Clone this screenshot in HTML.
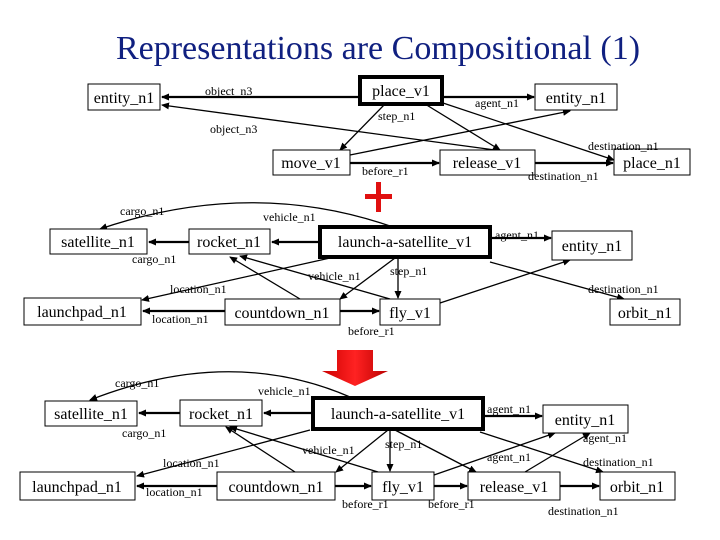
<!DOCTYPE html>
<html><head><meta charset="utf-8"><style>
html,body{margin:0;padding:0;background:#fff;}
svg{display:block;font-family:"Liberation Serif",serif;}
.b{fill:#fff;stroke:#000;stroke-width:1;}
.t{stroke:#000;stroke-width:4;fill:#fff;}
.n{font-size:16px;text-anchor:middle;}
.l{font-size:12px;}
.e{stroke:#000;stroke-width:1.3;fill:none;marker-end:url(#a);}
.h{stroke:#000;stroke-width:2.2;fill:none;marker-end:url(#a);}
</style></head><body>
<svg width="720" height="540" viewBox="0 0 720 540">
<defs>
<marker id="a" markerWidth="8" markerHeight="8" refX="7" refY="4" orient="auto" markerUnits="userSpaceOnUse"><path d="M0,0.5 L8,4 L0,7.5z" fill="#000"/></marker>
<linearGradient id="rg" x1="0" x2="1"><stop offset="0" stop-color="#c00"/><stop offset="0.5" stop-color="#f22"/><stop offset="1" stop-color="#b00"/></linearGradient>
</defs>
<text x="378" y="59" font-size="34" text-anchor="middle" fill="#102080">Representations are Compositional (1)</text>

<!-- TOP -->
<line class="h" x1="360" y1="97" x2="162" y2="97"/>
<line class="h" x1="442" y1="97" x2="534" y2="97"/>
<line class="e" x1="385" y1="104" x2="340" y2="150"/>
<line class="e" x1="425" y1="104" x2="500" y2="150"/>
<line class="e" x1="440" y1="102" x2="614" y2="160"/>
<line class="e" x1="495" y1="150" x2="162" y2="105"/>
<line class="e" x1="350" y1="155" x2="570" y2="111"/>
<line class="h" x1="350" y1="163" x2="439" y2="163"/>
<line class="h" x1="535" y1="163" x2="613" y2="163"/>
<rect class="b" x="88" y="84" width="72" height="26"/><text class="n" x="124" y="103">entity_n1</text>
<rect class="t" x="360" y="77" width="82" height="27"/><text class="n" x="401" y="96">place_v1</text>
<rect class="b" x="535" y="84" width="82" height="26"/><text class="n" x="576" y="103">entity_n1</text>
<rect class="b" x="273" y="150" width="77" height="25"/><text class="n" x="311" y="168">move_v1</text>
<rect class="b" x="440" y="150" width="95" height="25"/><text class="n" x="487" y="168">release_v1</text>
<rect class="b" x="614" y="149" width="76" height="26"/><text class="n" x="652" y="168">place_n1</text>
<text class="l" x="205" y="95">object_n3</text>
<text class="l" x="378" y="120">step_n1</text>
<text class="l" x="475" y="107">agent_n1</text>
<text class="l" x="210" y="133">object_n3</text>
<text class="l" x="588" y="150">destination_n1</text>
<text class="l" x="362" y="175">before_r1</text>
<text class="l" x="528" y="180">destination_n1</text>
<rect x="376" y="182" width="5" height="30" fill="#e01010"/><rect x="365" y="194" width="27" height="5" fill="#e01010"/>

<!-- MIDDLE -->
<path class="e" d="M390,226 Q250,178 100,229"/>
<line class="h" x1="320" y1="242" x2="272" y2="242"/>
<line class="h" x1="189" y1="242" x2="149" y2="242"/>
<line class="h" x1="490" y1="238" x2="551" y2="238"/>
<line class="e" x1="330" y1="258" x2="142" y2="300"/>
<line class="e" x1="395" y1="258" x2="340" y2="299"/>
<line class="e" x1="398" y1="258" x2="398" y2="298"/>
<line class="e" x1="490" y1="262" x2="624" y2="299"/>
<line class="e" x1="300" y1="299" x2="230" y2="257"/>
<line class="e" x1="390" y1="299" x2="240" y2="256"/>
<line class="e" x1="440" y1="303" x2="570" y2="260"/>
<line class="h" x1="225" y1="311" x2="143" y2="311"/>
<line class="h" x1="340" y1="311" x2="379" y2="311"/>
<rect class="b" x="50" y="229" width="97" height="25"/><text class="n" x="98" y="247">satellite_n1</text>
<rect class="b" x="189" y="229" width="81" height="25"/><text class="n" x="229" y="247">rocket_n1</text>
<rect class="t" x="320" y="227" width="170" height="30"/><text class="n" x="405" y="247">launch-a-satellite_v1</text>
<rect class="b" x="552" y="231" width="80" height="29"/><text class="n" x="592" y="251">entity_n1</text>
<rect class="b" x="24" y="298" width="117" height="27"/><text class="n" x="82" y="317">launchpad_n1</text>
<rect class="b" x="225" y="299" width="115" height="26"/><text class="n" x="282" y="318">countdown_n1</text>
<rect class="b" x="380" y="299" width="60" height="26"/><text class="n" x="410" y="318">fly_v1</text>
<rect class="b" x="610" y="299" width="70" height="26"/><text class="n" x="645" y="318">orbit_n1</text>
<text class="l" x="120" y="215">cargo_n1</text>
<text class="l" x="263" y="221">vehicle_n1</text>
<text class="l" x="132" y="263">cargo_n1</text>
<text class="l" x="495" y="239">agent_n1</text>
<text class="l" x="390" y="275">step_n1</text>
<text class="l" x="308" y="280">vehicle_n1</text>
<text class="l" x="170" y="293">location_n1</text>
<text class="l" x="588" y="293">destination_n1</text>
<text class="l" x="152" y="323">location_n1</text>
<text class="l" x="348" y="335">before_r1</text>

<!-- red arrow -->
<path d="M337,350 H373 V371 H388 L355,386 L322,371 H337z" fill="url(#rg)"/>

<!-- BOTTOM -->
<path class="e" d="M350,397 Q230,345 90,400"/>
<line class="h" x1="313" y1="413" x2="264" y2="413"/>
<line class="h" x1="180" y1="413" x2="139" y2="413"/>
<line class="h" x1="483" y1="416" x2="542" y2="416"/>
<line class="e" x1="310" y1="430" x2="137" y2="476"/>
<line class="e" x1="388" y1="430" x2="336" y2="472"/>
<line class="e" x1="390" y1="430" x2="390" y2="471"/>
<line class="e" x1="395" y1="430" x2="476" y2="472"/>
<line class="e" x1="480" y1="432" x2="603" y2="472"/>
<line class="e" x1="295" y1="472" x2="226" y2="427"/>
<line class="e" x1="378" y1="472" x2="230" y2="427"/>
<line class="e" x1="434" y1="475" x2="555" y2="433"/>
<line class="e" x1="525" y1="472" x2="590" y2="433"/>
<line class="h" x1="217" y1="486" x2="137" y2="486"/>
<line class="h" x1="335" y1="486" x2="371" y2="486"/>
<line class="h" x1="434" y1="486" x2="467" y2="486"/>
<line class="h" x1="560" y1="486" x2="599" y2="486"/>
<rect class="b" x="45" y="401" width="92" height="25"/><text class="n" x="91" y="419">satellite_n1</text>
<rect class="b" x="180" y="400" width="82" height="26"/><text class="n" x="221" y="419">rocket_n1</text>
<rect class="t" x="313" y="398" width="170" height="31"/><text class="n" x="398" y="419">launch-a-satellite_v1</text>
<rect class="b" x="543" y="405" width="85" height="28"/><text class="n" x="585" y="425">entity_n1</text>
<rect class="b" x="20" y="472" width="115" height="28"/><text class="n" x="77" y="492">launchpad_n1</text>
<rect class="b" x="217" y="472" width="118" height="28"/><text class="n" x="276" y="492">countdown_n1</text>
<rect class="b" x="372" y="472" width="62" height="28"/><text class="n" x="403" y="492">fly_v1</text>
<rect class="b" x="468" y="472" width="92" height="28"/><text class="n" x="514" y="492">release_v1</text>
<rect class="b" x="600" y="472" width="75" height="28"/><text class="n" x="637" y="492">orbit_n1</text>
<text class="l" x="115" y="387">cargo_n1</text>
<text class="l" x="258" y="395">vehicle_n1</text>
<text class="l" x="122" y="437">cargo_n1</text>
<text class="l" x="487" y="413">agent_n1</text>
<text class="l" x="583" y="442">agent_n1</text>
<text class="l" x="385" y="448">step_n1</text>
<text class="l" x="302" y="454">vehicle_n1</text>
<text class="l" x="487" y="461">agent_n1</text>
<text class="l" x="163" y="467">location_n1</text>
<text class="l" x="583" y="466">destination_n1</text>
<text class="l" x="146" y="496">location_n1</text>
<text class="l" x="342" y="508">before_r1</text>
<text class="l" x="428" y="508">before_r1</text>
<text class="l" x="548" y="515">destination_n1</text>
</svg>
</body></html>
